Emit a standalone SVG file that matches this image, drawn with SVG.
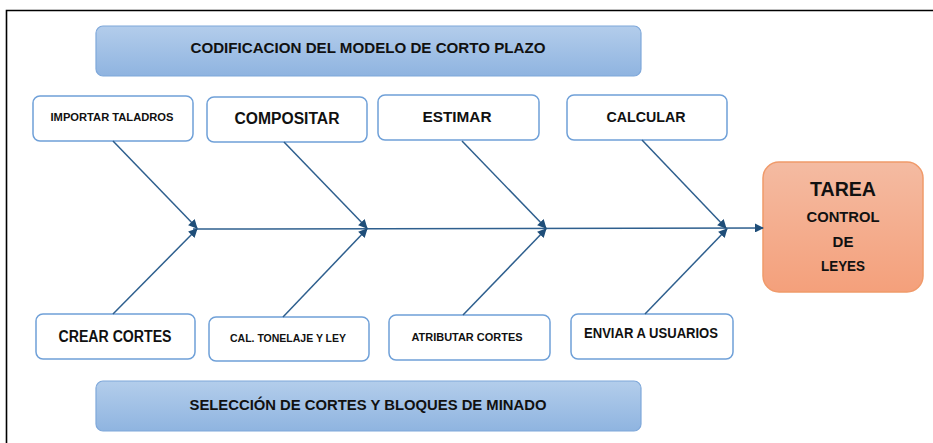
<svg xmlns="http://www.w3.org/2000/svg" width="933" height="443" viewBox="0 0 933 443">
<defs>
<linearGradient id="gb" x1="0" y1="0" x2="0" y2="1"><stop offset="0" stop-color="#b3cdeb"/><stop offset="1" stop-color="#8fb4e0"/></linearGradient>
<linearGradient id="go" x1="0" y1="0" x2="0" y2="1"><stop offset="0" stop-color="#f4bba2"/><stop offset="1" stop-color="#f4a07b"/></linearGradient>
<marker id="ah" viewBox="0 0 10 10" refX="9" refY="5" markerWidth="6.5" markerHeight="6" orient="auto" markerUnits="strokeWidth"><path d="M0,0 L10,5 L0,10 z" fill="#1f4e79"/></marker>
<style>
.box{fill:#fff;stroke:#6fa0d8;stroke-width:1.5}
.ban{fill:url(#gb);stroke:#7fa8da;stroke-width:1.2}
.t{font-family:"Liberation Sans",Arial,sans-serif;font-weight:bold;fill:#111;text-anchor:middle}
.ln{stroke:#2e5f8e;stroke-width:1.5;fill:none;marker-end:url(#ah)}
</style>
</defs>
<rect width="933" height="443" fill="#fff"/>
<path d="M6.5,443 V10.5 H933" fill="none" stroke="#000" stroke-width="1.6"/>
<g id="banner-top"><rect class="ban" x="96" y="26" width="545" height="50" rx="7"/><text class="t" x="368" y="53" font-size="15" textLength="355" lengthAdjust="spacingAndGlyphs">CODIFICACION DEL MODELO DE CORTO PLAZO</text></g>
<g id="importar"><rect class="box" x="33" y="96" width="160" height="45" rx="7"/><text class="t" x="112" y="121" font-size="11" textLength="123" lengthAdjust="spacingAndGlyphs">IMPORTAR TALADROS</text></g>
<g id="compositar"><rect class="box" x="207" y="97" width="160" height="45" rx="7"/><text class="t" x="287" y="124" font-size="16" textLength="105" lengthAdjust="spacingAndGlyphs">COMPOSITAR</text></g>
<g id="estimar"><rect class="box" x="378" y="95" width="161" height="45" rx="7"/><text class="t" x="457" y="122" font-size="15" textLength="69" lengthAdjust="spacingAndGlyphs">ESTIMAR</text></g>
<g id="calcular"><rect class="box" x="567" y="95" width="160" height="45" rx="7"/><text class="t" x="646" y="122" font-size="15" textLength="79" lengthAdjust="spacingAndGlyphs">CALCULAR</text></g>
<g id="tarea"><rect x="763" y="162" width="160" height="130" rx="16" fill="url(#go)" stroke="#f09a6a" stroke-width="1.5"/>
<text class="t" x="843" y="196" font-size="20" textLength="66" lengthAdjust="spacingAndGlyphs">TAREA</text>
<text class="t" x="843" y="222" font-size="15" textLength="73" lengthAdjust="spacingAndGlyphs">CONTROL</text>
<text class="t" x="843" y="247" font-size="15">DE</text>
<text class="t" x="843" y="271" font-size="15" textLength="44" lengthAdjust="spacingAndGlyphs">LEYES</text></g>
<g id="crear"><rect class="box" x="36" y="314" width="159" height="45" rx="7"/><text class="t" x="115" y="342" font-size="16" textLength="113" lengthAdjust="spacingAndGlyphs">CREAR CORTES</text></g>
<g id="caltonelaje"><rect class="box" x="209" y="317" width="160" height="44" rx="7"/><text class="t" x="288" y="342" font-size="11" textLength="116" lengthAdjust="spacingAndGlyphs">CAL. TONELAJE Y LEY</text></g>
<g id="atributar"><rect class="box" x="389" y="315" width="161" height="45" rx="7"/><text class="t" x="467" y="341" font-size="11" textLength="111" lengthAdjust="spacingAndGlyphs">ATRIBUTAR CORTES</text></g>
<g id="enviar"><rect class="box" x="571" y="314" width="162" height="45" rx="7"/><text class="t" x="651" y="338" font-size="14" textLength="134" lengthAdjust="spacingAndGlyphs">ENVIAR A USUARIOS</text></g>
<g id="banner-bottom"><rect class="ban" x="96" y="381" width="545" height="50" rx="7"/><text class="t" x="368" y="410" font-size="15" textLength="357" lengthAdjust="spacingAndGlyphs">SELECCIÓN DE CORTES Y BLOQUES DE MINADO</text></g>
<g id="connectors">
<line class="ln" x1="193" y1="229" x2="763" y2="228"/>
<line class="ln" x1="113" y1="141" x2="197" y2="228"/>
<line class="ln" x1="284" y1="142" x2="367" y2="228"/>
<line class="ln" x1="462" y1="141" x2="546" y2="228"/>
<line class="ln" x1="642" y1="140" x2="726" y2="228"/>
<line class="ln" x1="113" y1="314" x2="197" y2="229"/>
<line class="ln" x1="283" y1="317" x2="367" y2="229"/>
<line class="ln" x1="463" y1="315" x2="546" y2="229"/>
<line class="ln" x1="645" y1="314" x2="727" y2="229"/>
</g>
</svg>
